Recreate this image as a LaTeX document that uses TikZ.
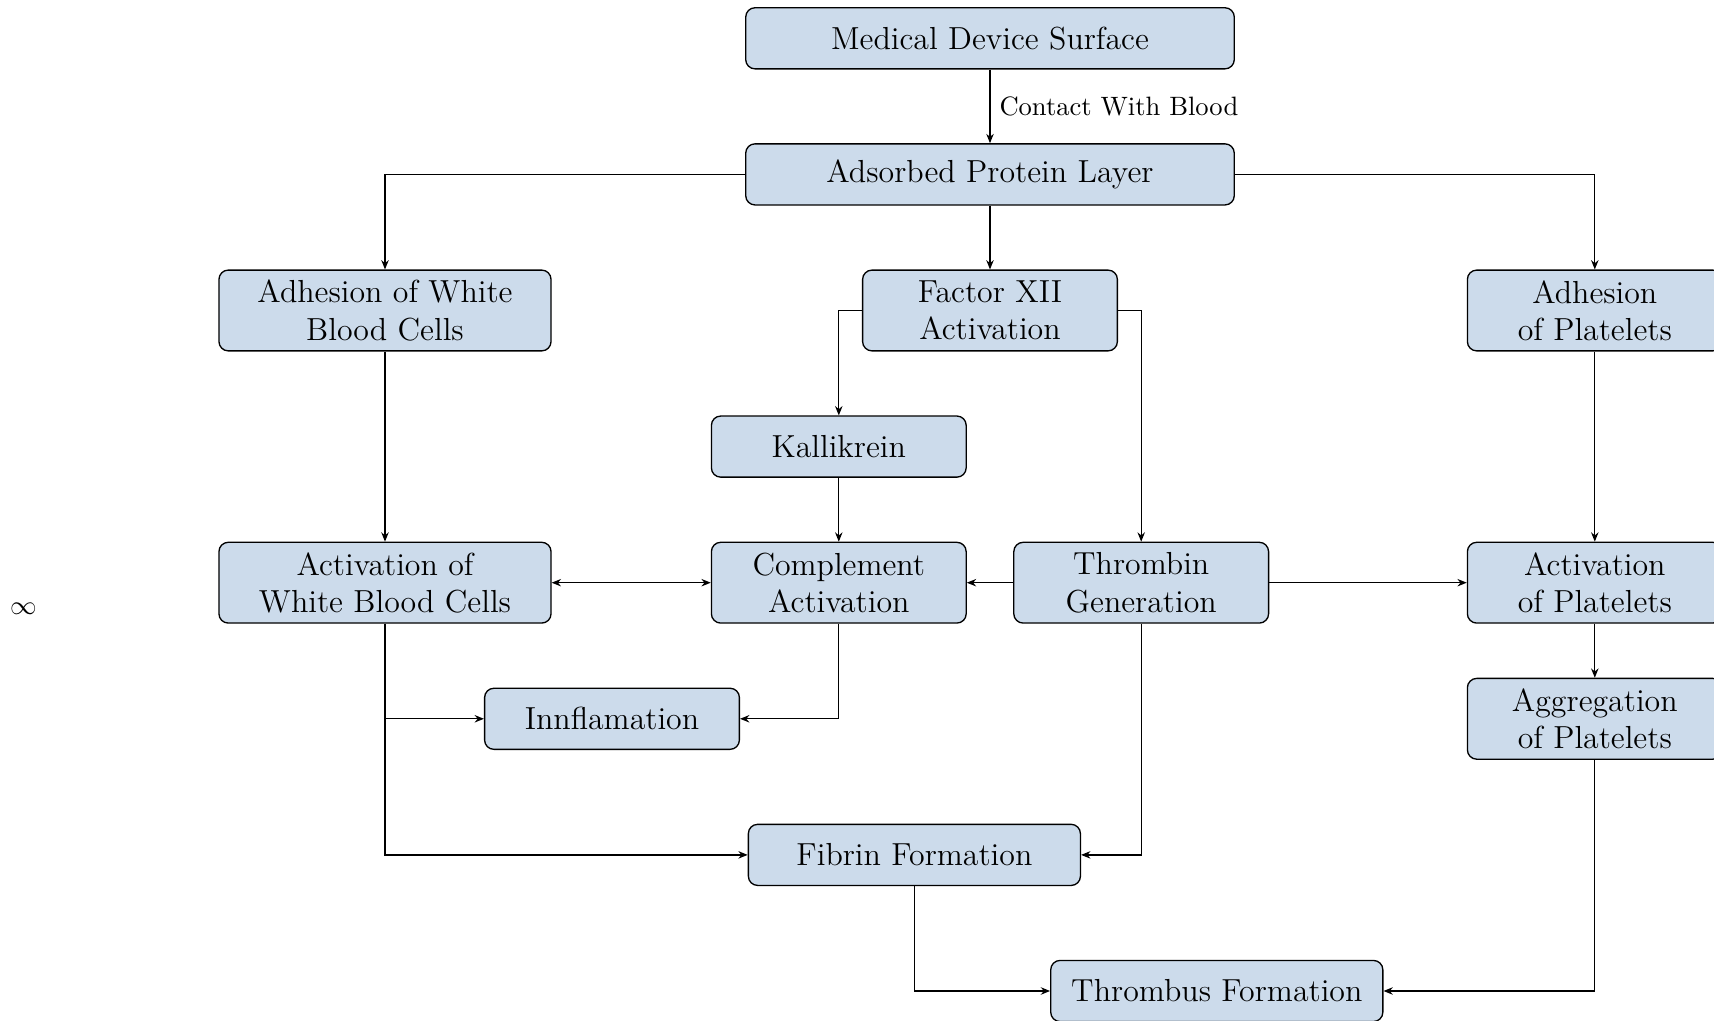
\documentclass[tikz,border=0pt]{standalone}
\usetikzlibrary{arrows.meta}
\definecolor{boxfill}{RGB}{204,219,235}
\begin{document}
\begin{tikzpicture}[x=0.3764pt,y=-0.3764pt,
  box/.style={draw=black, fill=boxfill, rounded corners=3.5pt, font=\large, align=center, inner sep=2pt, line width=0.5pt},
  wide/.style={box, minimum width=183.9pt, minimum height=23.0pt},
  midone/.style={box, minimum width=125pt, minimum height=23.0pt},
  midtwo/.style={box, minimum width=125pt, minimum height=30.4pt},
  narone/.style={box, minimum width=95.9pt, minimum height=23.0pt},
  nartwo/.style={box, minimum width=95.9pt, minimum height=30.4pt},
  arr/.style={-{Stealth[length=3.5pt,width=2.8pt]}, line width=0.5pt},
  barr/.style={{Stealth[length=3.5pt,width=2.8pt]}-{Stealth[length=3.5pt,width=2.8pt]}, line width=0.5pt}
]
\useasboundingbox (0,0) rectangle (1714,1021);

\node[wide] (med) at (990,38.3) {Medical Device Surface};
\node[wide] (ads) at (990,174.4) {Adsorbed Protein Layer};
\node[midtwo] (adw) at (385,310.5) {Adhesion of White\\Blood Cells};
\node[nartwo] (f12) at (990,310.5) {Factor XII\\Activation};
\node[nartwo] (adp) at (1594.8,310.5) {Adhesion\\of Platelets};
\node[narone] (kal) at (838.8,446.6) {Kallikrein};
\node[midtwo] (acw) at (385,582.7) {Activation of\\White Blood Cells};
\node[nartwo] (com) at (838.8,582.7) {Complement\\Activation};
\node[nartwo] (thr) at (1141.2,582.7) {Thrombin\\Generation};
\node[nartwo] (acp) at (1594.8,582.7) {Activation\\of Platelets};
\node[narone] (inf) at (612,718.8) {Innflamation};
\node[nartwo] (agg) at (1594.8,718.8) {Aggregation\\of Platelets};
\node[midone] (fib) at (914.4,854.9) {Fibrin Formation};
\node[midone] (thb) at (1216.8,991.0) {Thrombus Formation};
\node (infty) at (23.5,609) {$\infty$};

\draw[arr] (med) -- node[right] {Contact With Blood} (ads);
\draw[arr] (ads.west) -| (adw.north);
\draw[arr] (ads) -- (f12);
\draw[arr] (ads.east) -| (adp.north);
\draw[arr] (f12.west) -| (kal.north);
\draw[arr] (f12.east) -| (thr.north);
\draw[arr] (adw) -- (acw);
\draw[arr] (kal) -- (com);
\draw[barr] (acw) -- (com);
\draw[arr] (thr) -- (com);
\draw[arr] (thr) -- (acp);
\draw[arr] (adp) -- (acp);
\draw[arr] (acp) -- (agg);
\draw[arr] (acw.south) |- (inf.west);
\draw[arr] (acw.south) |- (fib.west);
\draw[arr] (com.south) |- (inf.east);
\draw[arr] (thr.south) |- (fib.east);
\draw[arr] (fib.south) |- (thb.west);
\draw[arr] (agg.south) |- (thb.east);
\end{tikzpicture}
\end{document}
